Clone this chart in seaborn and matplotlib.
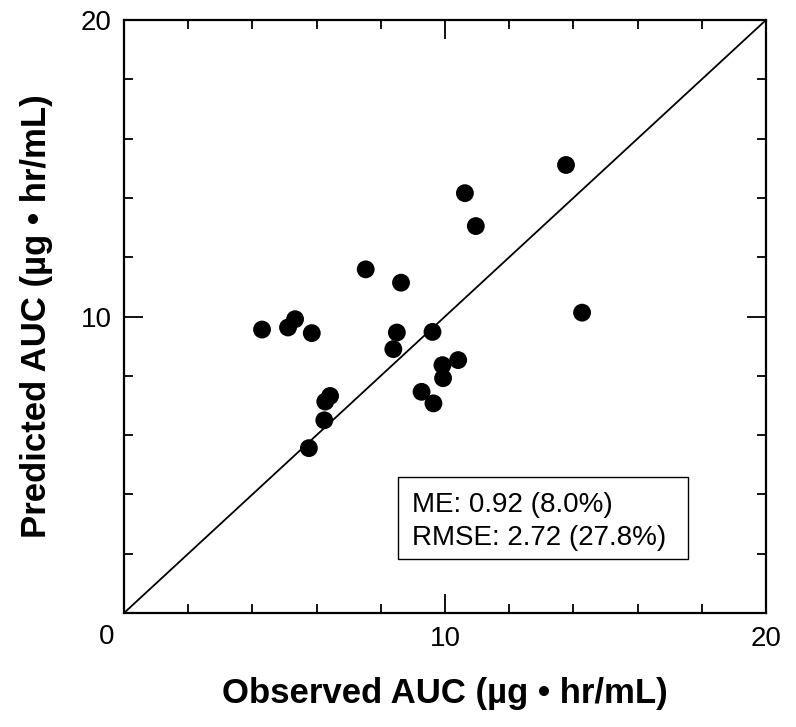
import matplotlib
matplotlib.use("Agg")
import matplotlib.pyplot as plt
from matplotlib.patches import Rectangle
from matplotlib.ticker import MultipleLocator
import seaborn as sns
import pandas as pd

observed = [4.30, 5.11, 5.33, 5.85, 7.53, 8.63, 8.50, 8.39, 9.61, 10.41, 9.92, 9.94,
            9.27, 9.64, 6.42, 6.27, 6.24, 5.76, 10.62, 10.96, 13.77, 14.27]
predicted = [9.56, 9.63, 9.91, 9.44, 11.59, 11.14, 9.46, 8.90, 9.48, 8.53, 8.36, 7.92,
             7.46, 7.07, 7.32, 7.13, 6.50, 5.56, 14.16, 13.05, 15.11, 10.13]
stats_lines = ["ME: 0.92 (8.0%)", "RMSE: 2.72 (27.8%)"]
ticks_major = [0, 10, 20]
tick_labels = ["", "10", "20"]

df = pd.DataFrame({"Observed": observed, "Predicted": predicted})

sns.set_theme(style="ticks")
plt.rcParams["font.family"] = ["Liberation Sans", "DejaVu Sans"]
plt.rcParams.update({"text.color": "black", "axes.labelcolor": "black",
                     "xtick.color": "black", "ytick.color": "black",
                     "xtick.labelcolor": "black", "ytick.labelcolor": "black"})

fig = plt.figure(figsize=(7.96, 7.27), dpi=100)
ax = fig.add_axes([124/796, 1-613/727, (766-124)/796, (613-20)/727])

ax.plot([0, 20], [0, 20], color="black", lw=1.3, zorder=1)
sns.scatterplot(data=df, x="Observed", y="Predicted", ax=ax, color="black",
                s=165, edgecolor="none", linewidth=0, zorder=3)

ax.set_xlim(0, 20)
ax.set_ylim(0, 20)
ax.set_xticks(ticks_major)
ax.set_yticks(ticks_major)
ax.set_xticklabels(tick_labels)
ax.set_yticklabels(tick_labels)
ax.xaxis.set_minor_locator(MultipleLocator(2))
ax.yaxis.set_minor_locator(MultipleLocator(2))
ax.tick_params(which="both", direction="in", top=True, right=True, color="black",
               labelcolor="black", width=1.3)
ax.tick_params(which="major", length=13.5, labelsize=20, pad=9)
ax.tick_params(which="minor", length=6.5)
for sp in ax.spines.values():
    sp.set_visible(True)
    sp.set_linewidth(1.6)
    sp.set_color("black")

ax.annotate("0", xy=(0, 0), xycoords="data", xytext=(-12.5, -17.3),
            textcoords="offset points", ha="center", va="center", fontsize=20,
            color="black")

ax.set_xlabel("Observed AUC (\u00b5g \u2022 hr/mL)", fontsize=25, fontweight="bold",
              labelpad=18, color="black")
ax.set_ylabel("Predicted AUC (\u00b5g \u2022 hr/mL)", fontsize=25, fontweight="bold",
              labelpad=20, color="black")

ax.add_patch(Rectangle((8.55, 1.81), 17.56-8.55, 4.60-1.81, fill=False,
                       edgecolor="black", lw=1.0, zorder=4))
ax.text(8.96, 3.42, stats_lines[0], fontsize=20, va="baseline", ha="left", zorder=5,
        color="black")
ax.text(8.96, 2.29, stats_lines[1], fontsize=20, va="baseline", ha="left", zorder=5,
        color="black")

fig.savefig("out.png", dpi=100)
